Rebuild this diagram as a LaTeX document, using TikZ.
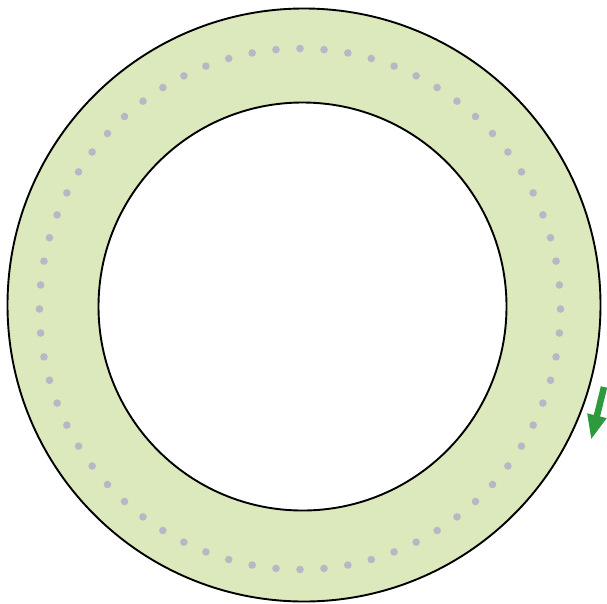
\documentclass[tikz,border=0pt]{standalone}
\usetikzlibrary{arrows.meta,calc}
\definecolor{ringfill}{HTML}{DBE9BC}
\definecolor{dotgray}{HTML}{B7B7C6}
\definecolor{arrowgreen}{HTML}{2E9A3E}
\tikzset{
  ringline/.style={draw=black, line width=1.9pt},
  ringdot/.style={fill=dotgray, draw=none},
  flowarrow/.style={draw=arrowgreen, line width=6.5pt, -{Triangle[length=25pt,width=18pt]}}
}
\begin{document}
\begin{tikzpicture}[x=1pt,y=-1pt]
\useasboundingbox (0,0) rectangle (607,603);
\coordinate (oc) at (304,305);
\coordinate (ic) at (302.5,306.5);
\coordinate (dc) at (300,309);
\fill[ringfill, even odd rule] (oc) circle (296.5) (ic) circle (204);
\foreach \i in {0,...,67}{
  \fill[ringdot] ($(dc)+({\i*5.2941}:260.5)$) circle (3.8);
}
\draw[ringline] (oc) circle (296.5);
\draw[ringline] (ic) circle (204);
\coordinate (as) at (604,387);
\coordinate (ae) at (591,440);
\draw[flowarrow] (as) -- (ae);
\end{tikzpicture}
\end{document}
